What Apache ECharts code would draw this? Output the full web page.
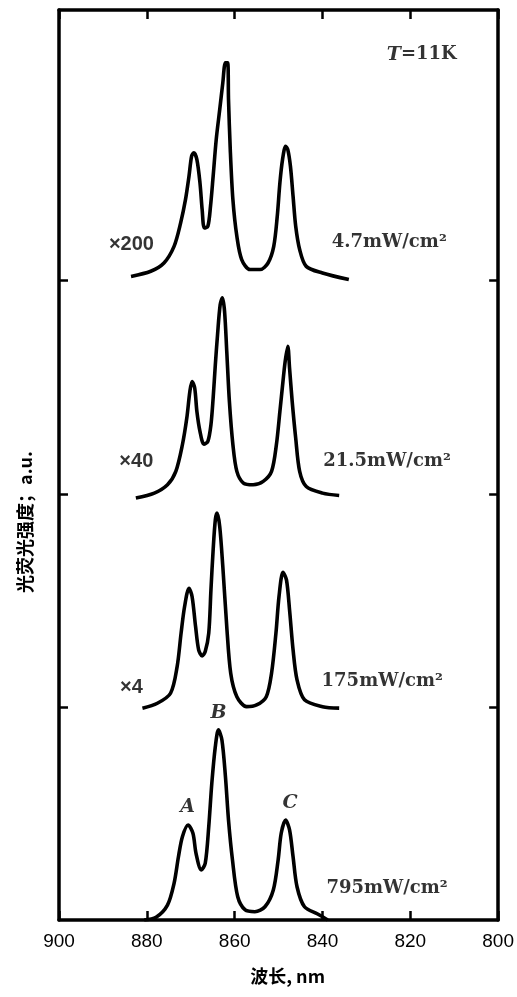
<!DOCTYPE html>
<html>
<head>
<meta charset="utf-8">
<script src="https://cdn.jsdelivr.net/npm/echarts@6/dist/echarts.min.js"></script>
<style>
  html, body { margin: 0; padding: 0; background: #fff; }
  #main { width: 517px; height: 997px; }
</style>
</head>
<body>
<div id="main"></div>
<script>
// wavelength (nm) / intensity (a.u., each curve lifted by its offset)
var spec795 = [
  [880.6, 0.000], [877.9, 0.013], [875.3, 0.070], [873.8, 0.172], [872.8, 0.297], [871.9, 0.391],
  [870.6, 0.446], [869.5, 0.407], [868.8, 0.313], [867.6, 0.235], [866.7, 0.266], [865.9, 0.438],
  [865.2, 0.642], [864.4, 0.814], [863.7, 0.892], [862.9, 0.845], [862.1, 0.673], [861.4, 0.469],
  [860.5, 0.282], [859.3, 0.109], [857.6, 0.047], [855.4, 0.039], [853.1, 0.062], [851.2, 0.141],
  [850.1, 0.282], [849.4, 0.407], [848.4, 0.469], [847.5, 0.423], [846.7, 0.297], [845.8, 0.156],
  [844.1, 0.062], [841.1, 0.028], [838.8, 0.000]
];
var spec175 = [
  [881.0, 0.994], [877.6, 1.017], [874.6, 1.064], [873.1, 1.189], [872.2, 1.346], [871.4, 1.471],
  [870.4, 1.557], [869.7, 1.518], [868.9, 1.377], [868.2, 1.268], [867.4, 1.239], [866.7, 1.260],
  [865.9, 1.346], [865.4, 1.549], [864.9, 1.737], [864.4, 1.878], [864.0, 1.909], [863.4, 1.846],
  [862.7, 1.659], [861.8, 1.377], [860.9, 1.158], [859.5, 1.048], [857.3, 1.001], [855.0, 1.009],
  [852.8, 1.048], [851.6, 1.158], [850.6, 1.346], [849.9, 1.518], [849.0, 1.631], [848.2, 1.596],
  [847.5, 1.455], [846.7, 1.268], [845.8, 1.127], [844.1, 1.033], [840.0, 1.001], [836.2, 0.994]
];
var spec21_5 = [
  [882.5, 1.980], [878.3, 2.003], [875.3, 2.042], [873.4, 2.105], [871.9, 2.230], [870.9, 2.355],
  [870.2, 2.480], [869.7, 2.527], [869.1, 2.496], [868.6, 2.386], [867.9, 2.293], [867.0, 2.233],
  [866.1, 2.246], [865.4, 2.324], [864.9, 2.449], [864.4, 2.606], [863.9, 2.746], [863.3, 2.887],
  [862.8, 2.919], [862.3, 2.856], [861.8, 2.668], [861.2, 2.433], [860.4, 2.230], [859.5, 2.105],
  [858.0, 2.050], [855.8, 2.042], [853.5, 2.058], [851.6, 2.105], [850.5, 2.230], [849.7, 2.386],
  [849.0, 2.527], [848.5, 2.621], [847.9, 2.692], [847.5, 2.590], [846.9, 2.433], [846.1, 2.261],
  [845.2, 2.105], [843.7, 2.034], [840.0, 2.003], [836.2, 1.992]
];
var spec4_7 = [
  [883.6, 3.020], [879.1, 3.044], [876.1, 3.083], [873.8, 3.161], [872.3, 3.271], [871.2, 3.380],
  [870.4, 3.490], [869.8, 3.584], [869.3, 3.600], [868.6, 3.568], [867.9, 3.459], [867.4, 3.333],
  [866.9, 3.247], [866.1, 3.255], [865.5, 3.349], [864.9, 3.490], [864.2, 3.662], [863.4, 3.803],
  [862.7, 3.928], [862.1, 4.022], [861.6, 4.022], [861.4, 3.850], [861.0, 3.615], [860.4, 3.380],
  [859.5, 3.208], [858.4, 3.099], [856.5, 3.052], [854.2, 3.052], [852.4, 3.083], [851.1, 3.161],
  [850.3, 3.302], [849.7, 3.459], [849.1, 3.568], [848.4, 3.631], [847.9, 3.615], [847.3, 3.537],
  [846.7, 3.396], [846.1, 3.255], [845.2, 3.146], [843.7, 3.067], [840.0, 3.036], [834.0, 3.005]
];
var xTicks = [900, 880, 860, 840, 820, 800];
var yTicks = [1, 2, 3];
// text placed in data coordinates: [nm, a.u., text, style]
var notes = [
  [817.4, 4.06, '{i|T}=11K', 's'],
  [883.5, 3.17, '×200', 'x'],
  [824.8, 3.18, '4.7mW/cm²', 's'],
  [882.4, 2.15, '×40', 'x'],
  [825.3, 2.15, '21.5mW/cm²', 's'],
  [883.5, 1.09, '×4', 'x'],
  [826.4, 1.12, '175mW/cm²', 's'],
  [863.7, 0.97, '{i|B}', 's'],
  [870.7, 0.53, '{i|A}', 's'],
  [847.4, 0.55, '{i|C}', 's'],
  [825.3, 0.15, '795mW/cm²', 's']
];

var chart = echarts.init(document.getElementById('main'));

function curve(data) {
  return {
    type: 'line', data: data, symbol: 'none', smooth: 0.3,
    lineStyle: {color: '#000', width: 3.6}, silent: true, z: 3
  };
}

var xBase = {
  type: 'value', min: 800, max: 900, interval: 20, inverse: true,
  axisLine: {show: true, onZero: false, lineStyle: {color: '#000', width: 3.5}},
  axisTick: {show: true, inside: true, length: 9, lineStyle: {color: '#000', width: 2.5}},
  splitLine: {show: false}
};
var yBase = {
  type: 'value', min: 0, max: 4.27,
  axisLine: {show: true, onZero: false, lineStyle: {color: '#000', width: 3.5}},
  axisTick: {show: true, inside: true, length: 9, customValues: yTicks, lineStyle: {color: '#000', width: 2.5}},
  axisLabel: {show: false},
  splitLine: {show: false}
};

var sansLabel = {fontFamily: 'Liberation Sans', fontSize: 20, fontWeight: 'bold', color: '#000'};
var serifLabel = {fontFamily: 'DejaVu Serif', fontSize: 18, fontWeight: 'bold', color: '#000'};

var option = {
  animation: false,
  backgroundColor: '#fff',
  grid: {left: 59, right: 15, top: 10, bottom: 77},
  xAxis: [
    Object.assign({}, xBase, {
      position: 'bottom',
      axisLabel: {
        margin: 12, color: '#000', fontSize: 19, fontFamily: 'Liberation Sans',
        customValues: xTicks
      },
      name: '波长, nm', nameLocation: 'middle', nameGap: 47,
      nameTextStyle: {
        color: '#000', fontSize: 18, fontWeight: 'bold',
        fontFamily: 'Noto Sans CJK SC', padding: [0, 0, 0, 18]
      }
    }),
    Object.assign({}, xBase, {position: 'top', axisLabel: {show: false}})
  ],
  yAxis: [
    Object.assign({}, yBase, {position: 'left'}),
    Object.assign({}, yBase, {position: 'right'})
  ],
  graphic: [{
    type: 'text', x: 25, y: 522, rotation: Math.PI / 2,
    style: {
      text: '光荧光强度；a.u.', fill: '#000', fontSize: 18, fontWeight: 'bold',
      fontFamily: 'Noto Sans CJK SC', align: 'center', verticalAlign: 'middle'
    }
  }],
  series: [
    curve(spec795),
    curve(spec175),
    curve(spec21_5),
    curve(spec4_7),
    {
      type: 'scatter', symbolSize: 0, silent: true, z: 4,
      data: notes.map(function (n) {
        return {
          value: [n[0], n[1]], name: n[2],
          label: n[3] === 'x' ? sansLabel : serifLabel
        };
      }),
      label: {
        show: true, position: 'inside', color: '#000',
        formatter: function (p) { return p.name; },
        rich: {i: {fontStyle: 'italic', fontFamily: 'DejaVu Serif', fontSize: 19, fontWeight: 'bold', color: '#000'}}
      }
    }
  ]
};
chart.setOption(option);
</script>
</body>
</html>
